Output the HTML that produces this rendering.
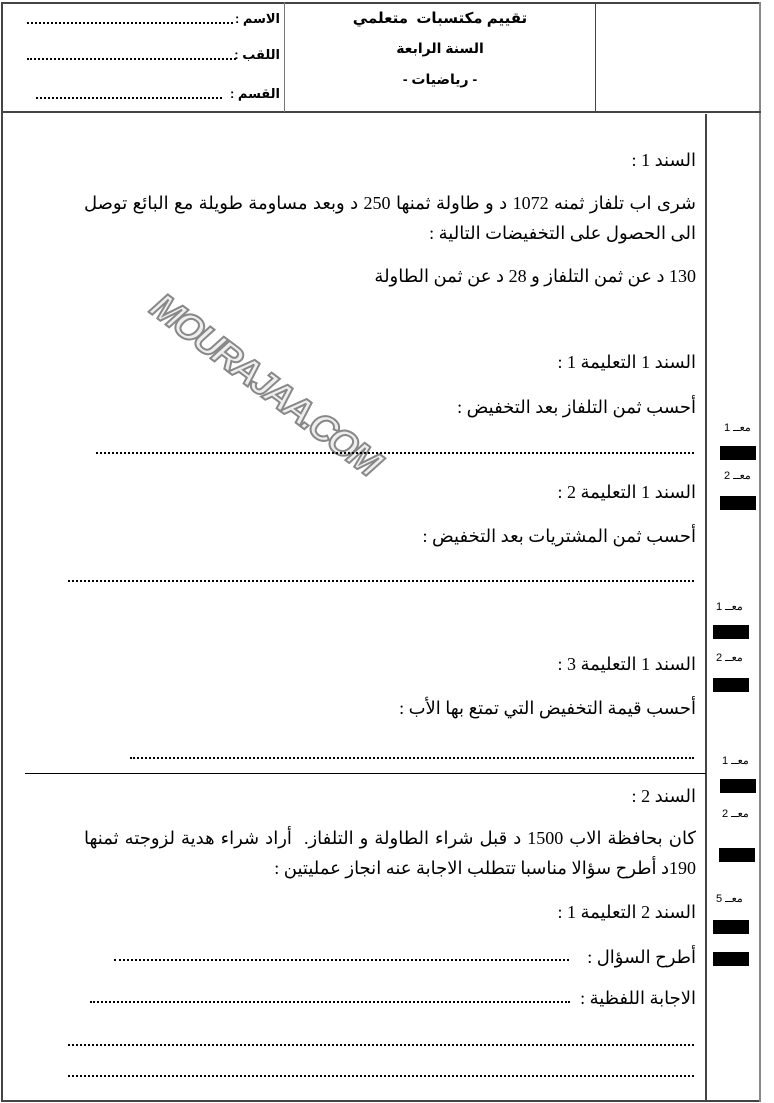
<!DOCTYPE html>
<html><head><meta charset="utf-8"><style>
body{margin:0;width:774px;height:1103px;position:relative;background:#fff;overflow:hidden}
.b{position:absolute;background:#444}
.t{position:absolute;right:78px;direction:rtl;white-space:nowrap;font-family:"Liberation Serif","DejaVu Sans",serif;font-size:18px;color:#000;line-height:24px}
.j{text-align:justify;text-align-last:justify}
.d{position:absolute;border-bottom:2px dotted #000;height:0}
.h{position:absolute;direction:rtl;white-space:nowrap;font-family:"Liberation Sans","DejaVu Sans",sans-serif;font-weight:bold;font-size:13px;line-height:16px}
.m{position:absolute;font-family:"Liberation Sans",sans-serif;font-size:11px;direction:rtl;white-space:nowrap}
.k{position:absolute;background:#000;height:14px;width:36px}
</style></head><body>
<div class="b" style="left:1px;top:2px;width:760px;height:2px"></div>
<div class="b" style="left:1px;top:1100px;width:760px;height:2px"></div>
<div class="b" style="left:1px;top:2px;width:2px;height:1100px"></div>
<div class="b" style="left:759px;top:2px;width:2px;height:1100px;background:#888"></div>
<div class="b" style="left:1px;top:111px;width:760px;height:2px"></div>
<div class="b" style="left:284px;top:2px;width:1px;height:110px;background:#777"></div>
<div class="b" style="left:595px;top:2px;width:1px;height:110px"></div>
<div class="b" style="left:705px;top:114px;width:2px;height:988px"></div>
<div class="b" style="left:25px;top:773px;width:681px;height:1px;background:#000"></div>

<div class="h" style="right:494px;top:11px">الاسم :</div>
<div class="d" style="left:27px;width:206px;top:22px"></div>
<div class="h" style="right:494px;top:47px">اللقب :</div>
<div class="d" style="left:27px;width:209px;top:58px"></div>
<div class="h" style="right:494px;top:86px">القسم :</div>
<div class="d" style="left:36px;width:186px;top:97px"></div>
<div class="h" style="left:285px;width:310px;text-align:center;top:11px;font-size:15px">تقييم مكتسبات&nbsp; متعلمي</div>
<div class="h" style="left:285px;width:310px;text-align:center;top:40px;font-size:14px">السنة الرابعة</div>
<div class="h" style="left:285px;width:310px;text-align:center;top:71px;font-size:14px">- رياضيات -</div>

<div style="position:absolute;left:128px;top:362px;width:270px;text-align:center;transform:rotate(37deg);font-family:'Liberation Sans',sans-serif;font-weight:bold;font-style:italic;font-size:37px;color:#eee;-webkit-text-stroke:2px #888;letter-spacing:-3px">MOURAJAA.COM</div>

<div class="t" style="top:148px">السند 1 :</div>
<div class="t j" style="top:191px;width:612px">شرى اب تلفاز ثمنه 1072 د و طاولة ثمنها 250 د وبعد مساومة طويلة مع البائع توصل</div>
<div class="t" style="top:221px">الى الحصول على التخفيضات التالية :</div>
<div class="t" style="top:264px">130 د عن ثمن التلفاز و 28 د عن ثمن الطاولة</div>

<div class="t" style="top:350px">السند 1 التعليمة 1 :</div>
<div class="t" style="top:395px">أحسب ثمن التلفاز بعد التخفيض :</div>
<div class="d" style="left:96px;width:598px;top:452px"></div>

<div class="t" style="top:480px">السند 1 التعليمة 2 :</div>
<div class="t" style="top:524px">أحسب ثمن المشتريات بعد التخفيض :</div>
<div class="d" style="left:68px;width:626px;top:580px"></div>

<div class="t" style="top:652px">السند 1 التعليمة 3 :</div>
<div class="t" style="top:696px">أحسب قيمة التخفيض التي تمتع بها الأب :</div>
<div class="d" style="left:130px;width:564px;top:757px"></div>

<div class="t" style="top:784px">السند 2 :</div>
<div class="t j" style="top:826px;width:612px">كان بحافظة الاب 1500 د قبل شراء الطاولة و التلفاز.&nbsp; أراد شراء هدية لزوجته ثمنها</div>
<div class="t" style="top:856px">190د أطرح سؤالا مناسبا تتطلب الاجابة عنه انجاز عمليتين :</div>
<div class="t" style="top:900px">السند 2 التعليمة 1 :</div>
<div class="t" style="top:945px">أطرح السؤال :</div>
<div class="d" style="left:114px;width:455px;top:959px"></div>
<div class="t" style="top:986px">الاجابة اللفظية :</div>
<div class="d" style="left:90px;width:480px;top:1001px"></div>
<div class="d" style="left:68px;width:626px;top:1044px"></div>
<div class="d" style="left:68px;width:626px;top:1075px"></div>

<div class="m" style="left:724px;top:421px">معــ 1</div>
<div class="k" style="left:720px;top:446px"></div>
<div class="m" style="left:724px;top:469px">معــ 2</div>
<div class="k" style="left:720px;top:496px"></div>
<div class="m" style="left:716px;top:600px">معــ 1</div>
<div class="k" style="left:713px;top:625px"></div>
<div class="m" style="left:716px;top:651px">معــ 2</div>
<div class="k" style="left:713px;top:678px"></div>
<div class="m" style="left:722px;top:754px">معــ 1</div>
<div class="k" style="left:720px;top:779px"></div>
<div class="m" style="left:722px;top:807px">معــ 2</div>
<div class="k" style="left:719px;top:848px"></div>
<div class="m" style="left:716px;top:892px">معــ 5</div>
<div class="k" style="left:713px;top:920px"></div>
<div class="k" style="left:713px;top:952px"></div>
</body></html>
